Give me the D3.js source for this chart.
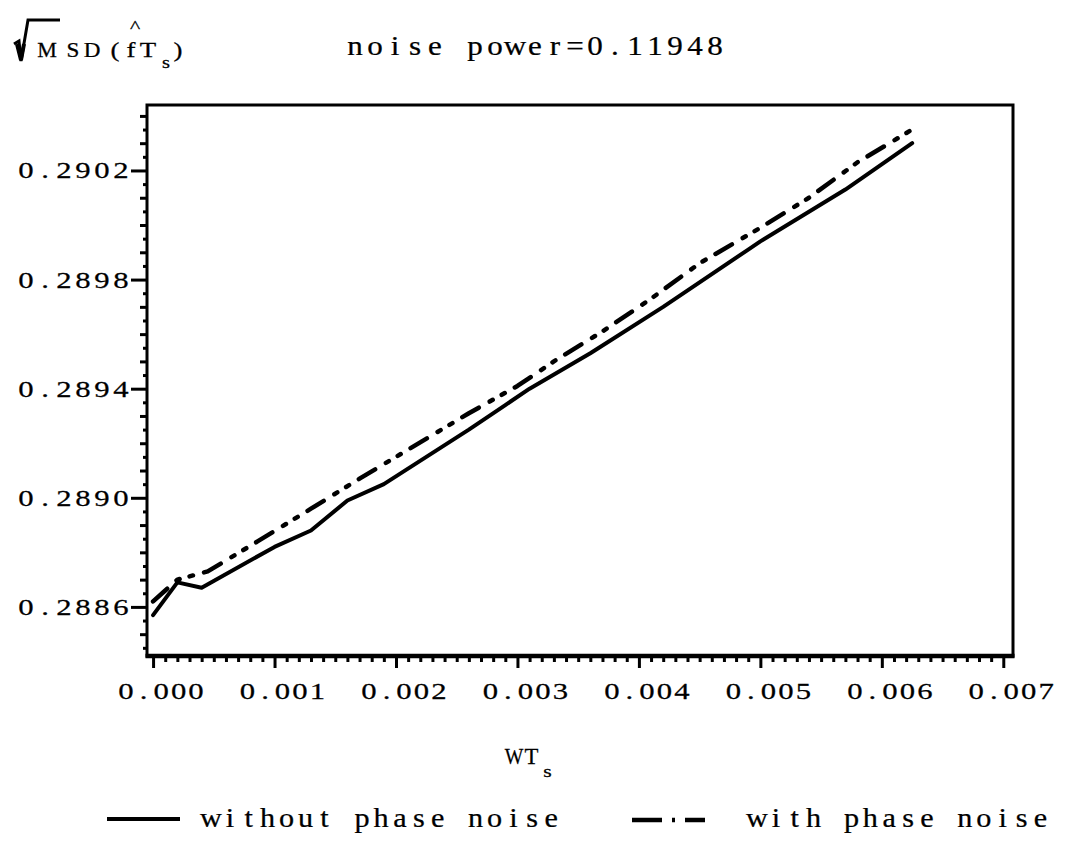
<!DOCTYPE html>
<html>
<head>
<meta charset="utf-8">
<script src="https://cdn.jsdelivr.net/npm/d3@7/dist/d3.min.js"></script>
<style>
  html, body { margin: 0; padding: 0; background: #fff; }
  svg { display: block; }
  text { font-family: "Liberation Serif", "DejaVu Serif", serif; fill: #000;
         stroke: #000; stroke-width: 0.25px; }
</style>
</head>
<body>
<svg id="chart" width="1065" height="842"></svg>
<script>
// Normalised frequency offset WT_s
const xSolid = [0, 0.0002, 0.0004, 0.0010, 0.0013, 0.0016, 0.0019, 0.0026, 0.0029, 0.0031,
                0.0036, 0.0042, 0.0049, 0.0050, 0.0057, 0.00625];
// sqrt(M)·SD of the frequency estimate, without phase noise
const ySolid = [0.28857, 0.28869, 0.28867, 0.28882, 0.28888, 0.28899, 0.28905, 0.28925, 0.28934, 0.28940,
                0.28953, 0.28970, 0.28991, 0.28994, 0.29013, 0.29030];

const xDash = [0, 0.0002, 0.00045, 0.00086, 0.0013, 0.0017, 0.0023, 0.0026, 0.0030, 0.0033,
               0.0037, 0.0041, 0.0045, 0.0050, 0.0054, 0.0058, 0.00625];
// same quantity with phase noise
const yDash = [0.28862, 0.28870, 0.28873, 0.28884, 0.28896, 0.28907, 0.28923, 0.28931, 0.28941, 0.28950,
               0.28961, 0.28973, 0.28986, 0.28999, 0.29010, 0.29023, 0.29035];

const xTicks = [0, 0.001, 0.002, 0.003, 0.004, 0.005, 0.006, 0.007];
const yTicks = [0.2886, 0.2890, 0.2894, 0.2898, 0.2902];
const xDomain = [-0.00005, 0.00708];
const yDomain = [0.28842, 0.29044];

const titleText = "noise power=0.11948";
const legendLabels = ["without phase noise", "with phase noise"];

const plot = { left: 147, right: 1013, top: 105, bottom: 656 };
const dashPattern = "19 12.5 3.5 10.3 3.5 11.5";

const svg = d3.select("#chart");
const x = d3.scaleLinear().domain(xDomain).range([plot.left, plot.right]);
const y = d3.scaleLinear().domain(yDomain).range([plot.bottom, plot.top]);

// typewriter-style text: every character centred in a fixed-width cell,
// glyphs widened horizontally by sx
function mono(sel, str, cellStart, baseline, adv, size, sx = 1.28) {
  const xs = Array.from(str).map((c, i) => ((cellStart + adv * (i + 0.5)) / sx).toFixed(2));
  return sel.append("text")
    .attr("transform", `translate(0,${baseline}) scale(${sx},1)`)
    .attr("x", xs.join(" "))
    .attr("y", 0)
    .attr("font-size", size)
    .attr("text-anchor", "middle")
    .style("white-space", "pre")
    .text(str);
}
// single glyph centred at cx
function glyph(sel, ch, cx, baseline, size, sx = 1.28) {
  return mono(sel, ch, cx - 5, baseline, 10, size, sx);
}

// frame
svg.append("rect")
  .attr("x", plot.left).attr("y", plot.top)
  .attr("width", plot.right - plot.left).attr("height", plot.bottom - plot.top)
  .attr("fill", "none").attr("stroke", "#000").attr("stroke-width", 3);
svg.append("line")
  .attr("x1", plot.left - 1.5).attr("x2", plot.right + 1.5)
  .attr("y1", plot.bottom).attr("y2", plot.bottom)
  .attr("stroke", "#000").attr("stroke-width", 4.5);

// x axis: major ticks every 0.001, minor every 0.0001
const xMinor = d3.range(0, 70.5).map(i => i / 10000).filter(v => Math.round(v * 10000) % 10 !== 0);
const gxm = svg.append("g").attr("transform", `translate(0,${plot.bottom})`)
  .call(d3.axisBottom(x).tickValues(xMinor).tickSize(6).tickFormat(""));
const gx = svg.append("g").attr("transform", `translate(0,${plot.bottom})`)
  .call(d3.axisBottom(x).tickValues(xTicks).tickSize(12).tickFormat(""));
[gx, gxm].forEach(g => {
  g.select(".domain").remove();
  g.selectAll(".tick line").attr("stroke", "#000").attr("stroke-width", 3);
});
const xFmt = d3.format(".3f");
const xAdv = 17.5;
xTicks.forEach(t => {
  const s = xFmt(t);
  const centre = x(t) + 8;
  mono(svg, s, centre - xAdv * s.length / 2, 699, xAdv, 24);
});

// y axis: labelled ticks every 0.0004, medium every 0.0001, small every 0.00005
const yAll = d3.range(0, 40.5).map(i => 0.28845 + i * 0.00005).filter(v => v < yDomain[1]);
const isLabelled = v => yTicks.some(t => Math.abs(t - v) < 1e-7);
const yMed = yAll.filter(v => Math.round(v * 100000) % 10 === 0 && !isLabelled(v));
const ySmall = yAll.filter(v => Math.round(v * 100000) % 10 !== 0);
const gys = svg.append("g").attr("transform", `translate(${plot.left},0)`)
  .call(d3.axisLeft(y).tickValues(ySmall).tickSize(4).tickFormat(""));
const gyMed = svg.append("g").attr("transform", `translate(${plot.left},0)`)
  .call(d3.axisLeft(y).tickValues(yMed).tickSize(7).tickFormat(""));
const gy = svg.append("g").attr("transform", `translate(${plot.left},0)`)
  .call(d3.axisLeft(y).tickValues(yTicks).tickSize(16).tickFormat(""));
[gys, gyMed, gy].forEach(g => {
  g.select(".domain").remove();
  g.selectAll(".tick line").attr("stroke", "#000").attr("stroke-width", 3);
});
const yFmt = d3.format(".4f");
const yAdv = 19;
yTicks.forEach(t => {
  const s = yFmt(t);
  mono(svg, s, 130.5 - yAdv * s.length, y(t) + 8, yAdv, 24);
});

// data lines
const line = d3.line().x(d => x(d[0])).y(d => y(d[1]));
svg.append("path")
  .datum(d3.zip(xSolid, ySolid))
  .attr("d", line)
  .attr("fill", "none").attr("stroke", "#000").attr("stroke-width", 4)
  .attr("stroke-linejoin", "round").attr("stroke-linecap", "round");
svg.append("path")
  .datum(d3.zip(xDash, yDash))
  .attr("d", line)
  .attr("fill", "none").attr("stroke", "#000").attr("stroke-width", 4.5)
  .attr("stroke-dasharray", dashPattern)
  .attr("stroke-linejoin", "round").attr("stroke-linecap", "round");

// title
mono(svg, titleText, 345, 55, 20, 27, 1.15);

// y-axis quantity: sqrt(M) SD(f^ T_s)
svg.append("path")
  .attr("d", "M14,44 L19,41 L21,61 L28,20 L60,20")
  .attr("fill", "none").attr("stroke", "#000").attr("stroke-width", 3)
  .attr("stroke-linejoin", "miter");
svg.append("path")
  .attr("d", "M17,44 L21,60 L24,44")
  .attr("fill", "none").attr("stroke", "#000").attr("stroke-width", 4);
const yLab = svg.append("g");
glyph(yLab, "M", 47, 57, 21, 1.05);
glyph(yLab, "S", 73, 57, 21, 1.1);
glyph(yLab, "D", 92, 57, 21, 1.1);
glyph(yLab, "(", 115, 57, 21);
glyph(yLab, "f", 131, 57, 21);
glyph(yLab, "^", 135, 32, 17);
glyph(yLab, "T", 148, 57, 21);
glyph(yLab, "s", 166, 68, 16);
glyph(yLab, ")", 178, 57, 21);

// x-axis quantity: WT_s
glyph(svg, "W", 514, 764, 24, 0.82);
glyph(svg, "T", 531.5, 764, 24, 0.95);
glyph(svg, "s", 547.5, 777, 17);

// legend
const legend = svg.append("g");
legend.append("line").attr("x1", 107).attr("x2", 180).attr("y1", 819).attr("y2", 819)
  .attr("stroke", "#000").attr("stroke-width", 4);
mono(legend, legendLabels[0], 201.5, 827, 18.9, 27, 1.12);
legend.append("line").attr("x1", 632).attr("x2", 705).attr("y1", 820).attr("y2", 820)
  .attr("stroke", "#000").attr("stroke-width", 4.5)
  .attr("stroke-dasharray", "30 10 3 10 40");
mono(legend, legendLabels[1], 747.5, 827, 18.9, 27, 1.12);
</script>
</body>
</html>
